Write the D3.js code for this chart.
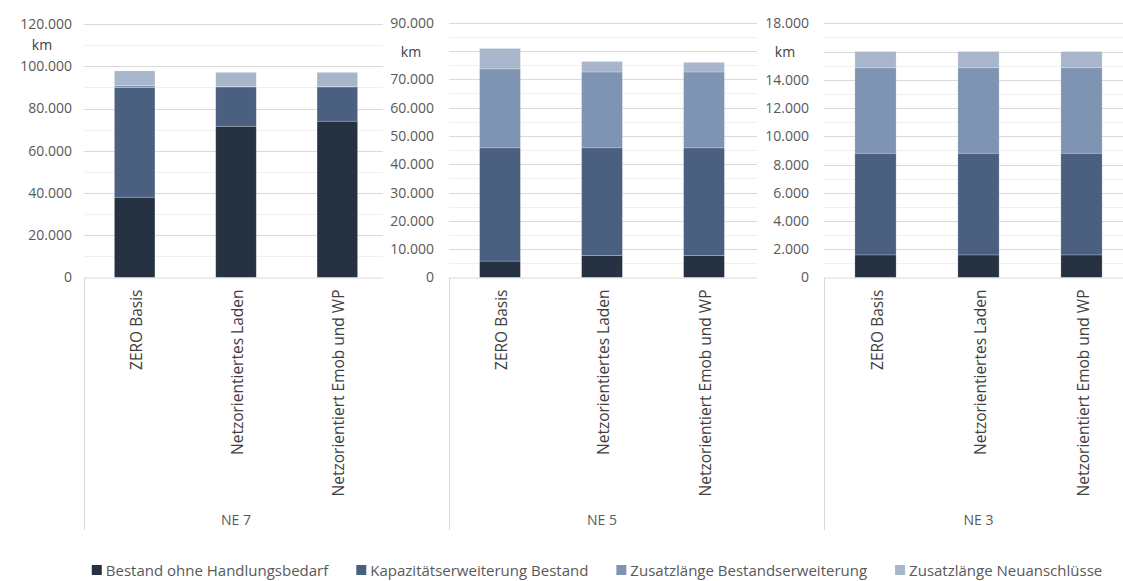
<!DOCTYPE html>
<html>
<head>
<meta charset="utf-8">
<script src="https://cdn.jsdelivr.net/npm/d3@7"></script>
<style>
  html, body { margin: 0; padding: 0; background: #fff; }
  svg { display: block; font-family: "Open Sans", "DejaVu Sans", sans-serif; }
</style>
</head>
<body>
<svg id="chart" width="1123" height="581"></svg>
<script>
// ---------------- data ----------------
const categories = ["ZERO Basis", "Netzorientiertes Laden", "Netzorientiert Emob und WP"];
const groups = ["NE 7", "NE 5", "NE 3"];
const seriesNames = ["Bestand ohne Handlungsbedarf", "Kapazitätserweiterung Bestand",
                     "Zusatzlänge Bestandserweiterung", "Zusatzlänge Neuanschlüsse"];
const seriesColors = ["#263241", "#4b5f80", "#7f93b3", "#a8b6cc"];

// values per group: [series][category]
const ne7Bestand = [38000, 71600, 74000];
const ne7Kapazitaet = [52000, 18600, 16200];
const ne7ZusatzBestand = [900, 200, 200];
const ne7ZusatzNeu = [6900, 6700, 6700];

const ne5Bestand = [5800, 7800, 7800];
const ne5Kapazitaet = [40000, 38000, 38000];
const ne5ZusatzBestand = [27900, 26800, 26800];
const ne5ZusatzNeu = [7200, 3700, 3400];

const ne3Bestand = [1600, 1600, 1600];
const ne3Kapazitaet = [7200, 7200, 7200];
const ne3ZusatzBestand = [6050, 6050, 6050];
const ne3ZusatzNeu = [1150, 1150, 1150];

const yMax = [120000, 90000, 18000];
const yMajorStep = [20000, 10000, 2000];
const kmAt = [110000, 80000, 16000];
const unitLabel = "km";

const groupSeries = [
  [ne7Bestand, ne7Kapazitaet, ne7ZusatzBestand, ne7ZusatzNeu],
  [ne5Bestand, ne5Kapazitaet, ne5ZusatzBestand, ne5ZusatzNeu],
  [ne3Bestand, ne3Kapazitaet, ne3ZusatzBestand, ne3ZusatzNeu]
];

// ---------------- layout ----------------
const svg = d3.select("#chart");
const panelLeft = [84, 449, 824];
const panelWidth = [304, 306, 309];
const gridRight = [383, 757, 1123];
const labelOffset = [12, 15, 15];
const kmX = [42, 411, 785];
const yTop = [24, 22.7, 23.3];
const yZero = 277.5;
const catAxisBottom = 530;

const fmt = v => d3.format(",")(v).replace(/,/g, ".");

groups.forEach((g, gi) => {
  const x0 = panelLeft[gi], w = panelWidth[gi];
  const panel = svg.append("g");

  // white background covering previous panel overflow
  if (gi > 0) {
    panel.append("rect").attr("x", gridRight[gi - 1]).attr("y", 0)
      .attr("width", 1123 - gridRight[gi - 1]).attr("height", 581).attr("fill", "#fff");
  }

  const y = d3.scaleLinear().domain([0, yMax[gi]]).range([yZero, yTop[gi]]);
  const x = d3.scaleBand().domain(categories).range([x0, x0 + w])
    .paddingInner(0.6).paddingOuter(0.3);

  // minor gridlines
  const minorTicks = d3.range(yMajorStep[gi] / 2, yMax[gi], yMajorStep[gi]);
  panel.selectAll(".minor").data(minorTicks).join("line")
    .attr("x1", x0).attr("x2", gridRight[gi])
    .attr("y1", d => Math.round(y(d)) + 0.5).attr("y2", d => Math.round(y(d)) + 0.5)
    .attr("stroke", "#f0f0f0").attr("stroke-width", 1);

  // major gridlines
  const majorTicks = d3.range(yMajorStep[gi], yMax[gi] + 1, yMajorStep[gi]);
  panel.selectAll(".major").data(majorTicks).join("line")
    .attr("x1", x0).attr("x2", gridRight[gi])
    .attr("y1", d => Math.round(y(d)) + 0.5).attr("y2", d => Math.round(y(d)) + 0.5)
    .attr("stroke", "#d9d9d9").attr("stroke-width", 1);

  // y axis labels (the one hidden behind the unit box in the original is omitted)
  const tickVals = d3.range(0, yMax[gi] + 1, yMajorStep[gi]).filter(v => v !== kmAt[gi]);
  const yAxis = d3.axisLeft(y).tickValues(tickVals)
    .tickFormat(fmt).tickSize(0).tickPadding(labelOffset[gi]);
  const ya = panel.append("g").attr("transform", `translate(${x0},0)`).call(yAxis);
  ya.select(".domain").remove();
  ya.selectAll("text").attr("fill", "#595959").attr("font-size", 14)
    .attr("font-family", "Open Sans");

  // stacked bars
  const rows = categories.map((c, ci) => {
    const r = { cat: c };
    seriesNames.forEach((s, si) => r[s] = groupSeries[gi][si][ci]);
    return r;
  });
  const stack = d3.stack().keys(seriesNames)(rows);
  panel.selectAll(".layer").data(stack).join("g")
    .attr("fill", (d, i) => seriesColors[i])
    .selectAll("rect").data(d => d).join("rect")
    .attr("x", d => x(d.data.cat))
    .attr("width", x.bandwidth())
    .attr("y", d => y(d[1]))
    .attr("height", d => Math.max(0, y(d[0]) - y(d[1])))
    .attr("stroke", "rgba(255,255,255,0.3)").attr("stroke-width", 0.7);

  // category axis lines
  panel.append("line").attr("x1", x0).attr("x2", gridRight[gi])
    .attr("y1", yZero + 0.5).attr("y2", yZero + 0.5)
    .attr("stroke", "#d9d9d9");
  panel.append("line").attr("x1", x0 + 0.5).attr("x2", x0 + 0.5)
    .attr("y1", yZero).attr("y2", catAxisBottom)
    .attr("stroke", "#d9d9d9");

  // category labels (rotated)
  panel.selectAll(".cat").data(categories).join("text")
    .attr("transform", d => `translate(${x(d) + x.bandwidth() / 2 + 1},${yZero + 12}) rotate(-90)`)
    .attr("text-anchor", "end").attr("dominant-baseline", "central")
    .attr("font-size", 15.5).attr("fill", "#404040")
    .text(d => d);

  // group label
  panel.append("text").attr("x", x0 + w / 2).attr("y", 519)
    .attr("text-anchor", "middle").attr("dominant-baseline", "central")
    .attr("font-size", 14).attr("fill", "#595959").text(g);

  // km unit label
  panel.append("text").attr("x", kmX[gi]).attr("y", gi === 0 ? 44 : y(kmAt[gi]))
    .attr("text-anchor", "middle").attr("dominant-baseline", "central")
    .attr("font-size", 14).attr("fill", "#404040").text(unitLabel);
});

// ---------------- legend ----------------
const legend = svg.append("g");
const items = legend.selectAll("g").data(seriesNames).join("g");
items.append("rect").attr("width", 10).attr("height", 10).attr("y", 565)
  .attr("fill", (d, i) => seriesColors[i]);
items.append("text").attr("x", 14).attr("y", 570).attr("dominant-baseline", "central")
  .attr("font-size", 15).attr("fill", "#595959").text(d => d);
let lx = 0;
const gap = 28;
const offsets = [];
items.each(function () {
  offsets.push(lx);
  const tw = d3.select(this).select("text").node().getComputedTextLength();
  lx += 14 + tw + gap;
});
const total = lx - gap;
const startX = 597 - total / 2;
items.attr("transform", (d, i) => `translate(${startX + offsets[i]},0)`);
</script>
</body>
</html>
